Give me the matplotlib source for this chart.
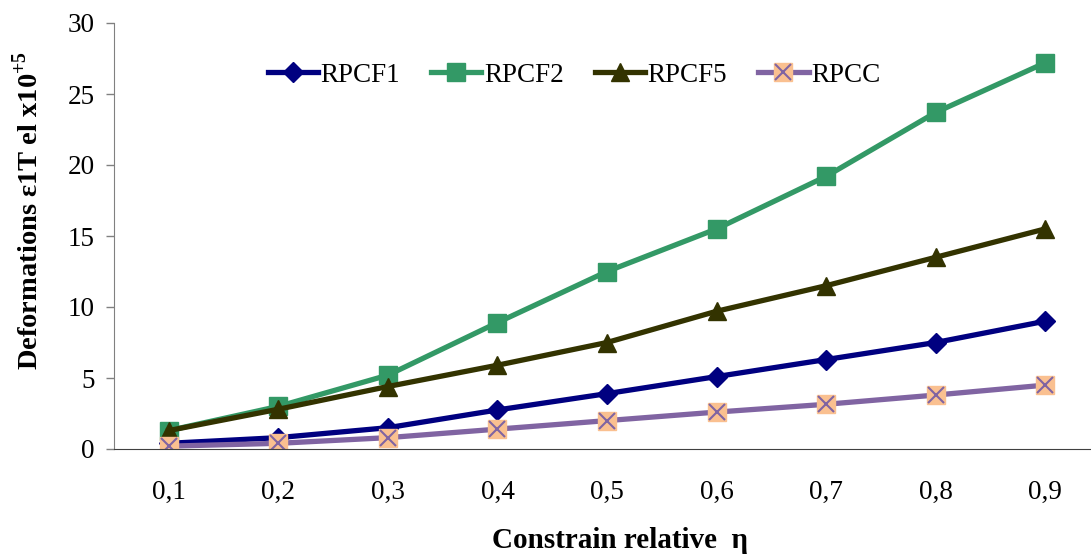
import matplotlib
matplotlib.use("Agg")
import matplotlib.pyplot as plt
from matplotlib.legend_handler import HandlerTuple

# data
eta = ["0,1", "0,2", "0,3", "0,4", "0,5", "0,6", "0,7", "0,8", "0,9"]
rpcf1 = [0.4, 0.8, 1.5, 2.75, 3.9, 5.1, 6.3, 7.5, 9.0]
rpcf2 = [1.3, 3.0, 5.2, 8.9, 12.5, 15.5, 19.2, 23.7, 27.2]
rpcf5 = [1.3, 2.8, 4.4, 5.9, 7.5, 9.7, 11.5, 13.5, 15.5]
rpcc = [0.2, 0.4, 0.8, 1.4, 2.0, 2.6, 3.15, 3.8, 4.5]
y_ticks = [0, 5, 10, 15, 20, 25, 30]

plt.rcParams['font.family'] = ['Liberation Serif', 'DejaVu Serif']
plt.rcParams['mathtext.fontset'] = 'custom'
plt.rcParams['mathtext.rm'] = 'Liberation Serif'
plt.rcParams['mathtext.bf'] = 'Liberation Serif:bold'

W, H = 1091, 555
fig = plt.figure(figsize=(W / 100, H / 100), dpi=100)
ax = fig.add_axes([114 / W, 106 / H, 986 / W, 426 / H])

x = list(range(len(eta)))
lw = 3.8

l1, = ax.plot(x, rpcf1, color='#000080', lw=lw, marker='D', markersize=10,
              markeredgecolor='#000080', label='RPCF1')
l2, = ax.plot(x, rpcf2, color='#339966', lw=lw, marker='s', markersize=13,
              markeredgecolor='#339966', label='RPCF2')
l5, = ax.plot(x, rpcf5, color='#333300', lw=lw, marker='^', markersize=13,
              markeredgecolor='#333300', label='RPCF5')
lc, = ax.plot(x, rpcc, color='#8064A2', lw=lw, marker='s', markersize=13,
              markerfacecolor='#FAC090', markeredgecolor='#FAC090', label='RPCC')
lx, = ax.plot(x, rpcc, ls='none', marker='x', markersize=11,
              markeredgecolor='#8064A2', markeredgewidth=1.5)

ax.set_xlim(-0.5, len(eta) - 0.5)
ax.set_ylim(0, 30)
ax.set_yticks(y_ticks)
ax.set_xticks(x)
ax.set_xticklabels(eta)
ax.tick_params(axis='x', length=0, pad=22, labelsize=19.5)
ax.tick_params(axis='y', direction='out', length=6, width=1, color='#808080',
               pad=8, labelsize=19.5)

for side in ['top', 'right']:
    ax.spines[side].set_visible(False)
ax.spines['left'].set_color('#808080')
ax.spines['bottom'].set_color('#404040')

# axis titles placed in figure pixels, like the reference
fig.text(620 / W, 1 - 540 / H, 'Constrain relative  \u03b7', fontsize=21,
         fontweight='bold', ha='center', va='center')
fig.text(28 / W, 1 - 210 / H, 'Deformations \u03b51T el x10$^{\\mathbf{+5}}$',
         fontsize=20.5, fontweight='bold', rotation=90, ha='center', va='center')

ax.legend([l1, l2, l5, (lc, lx)], ['RPCF1', 'RPCF2', 'RPCF5', 'RPCC'],
          handler_map={tuple: HandlerTuple(ndivide=1, pad=0)},
          loc='center', bbox_to_anchor=(574 / W, 480 / H),
          bbox_transform=fig.transFigure, ncol=4, frameon=False, fontsize=19.5,
          handlelength=1.85, handletextpad=0.1, columnspacing=1.15)

fig.savefig('out.png', dpi=100)
